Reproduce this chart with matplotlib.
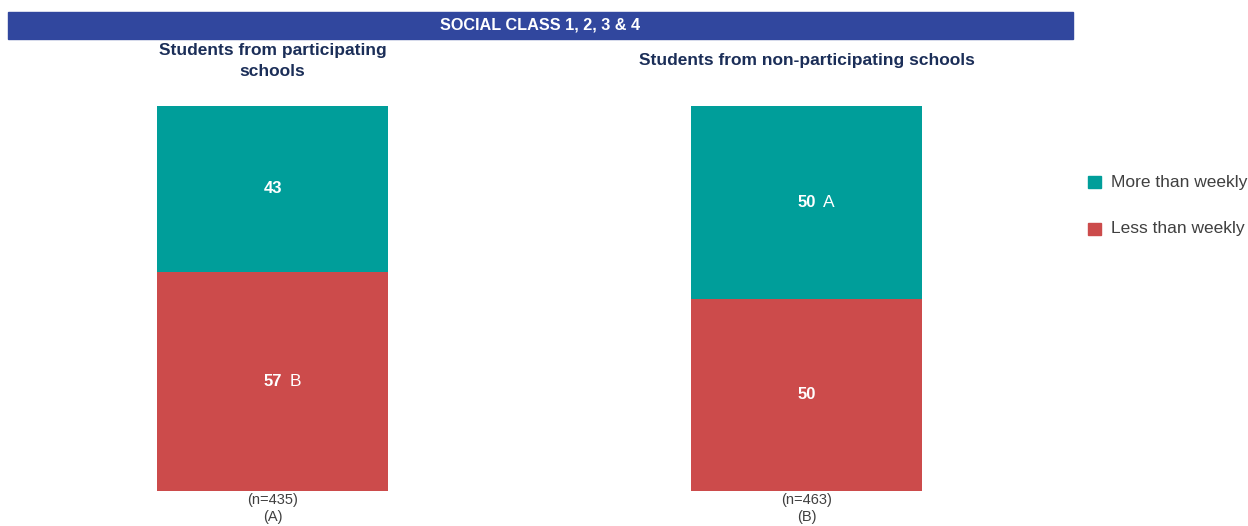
import matplotlib
matplotlib.use("Agg")
from matplotlib import pyplot as plt
from matplotlib.patches import Rectangle

plt.rcParams['font.family'] = ['Liberation Sans', 'DejaVu Sans']

groups = ["Students from participating\nschools", "Students from non-participating schools"]
n_labels = ["(n=435)\n(A)", "(n=463)\n(B)"]
series = ["More than weekly", "Less than weekly"]
more_weekly = [43, 50]
less_weekly = [57, 50]
# significance letters shown next to each value
more_sig = ["", "A"]
less_sig = ["B", ""]

teal = "#009e9a"
red = "#cc4b4b"
navy = "#1b2e58"
grey = "#404040"

W, H = 1248, 526
fig = plt.figure(figsize=(W / 100, H / 100), dpi=100)

# banner across the top
fig.patches.append(Rectangle((8 / W, 1 - 39 / H), (1073 - 8) / W, 27 / H,
                             transform=fig.transFigure, color="#31479e", zorder=0))
fig.text(540 / W, 1 - 25.5 / H, "SOCIAL CLASS 1, 2, 3 & 4", color="white",
         fontsize=11.7, fontweight="bold", ha="center", va="center")

bar_x = [157, 691]
bar_w = 231
top, bottom = 106, 491


def value_label(ax, y, val, sig):
    ax.text(0, y, str(val), color="white", fontsize=12, fontweight="bold",
            ha="center", va="center")
    if sig:
        ax.text(0.073, y, sig, color="white", fontsize=12.5, ha="left", va="center")


for i in range(2):
    ax = fig.add_axes([bar_x[i] / W, 1 - bottom / H, bar_w / W, (bottom - top) / H])
    ax.bar(0, less_weekly[i], width=1, color=red)
    ax.bar(0, more_weekly[i], bottom=less_weekly[i], width=1, color=teal)
    ax.set_xlim(-0.5, 0.5)
    ax.set_ylim(0, 100)
    ax.axis("off")
    value_label(ax, less_weekly[i] + more_weekly[i] / 2, more_weekly[i], more_sig[i])
    value_label(ax, less_weekly[i] / 2, less_weekly[i], less_sig[i])
    ax.text(0, -0.4, n_labels[i], color=grey, fontsize=10.5,
            ha="center", va="top", linespacing=1.28)
    cx = (bar_x[i] + bar_w / 2) / W
    fig.text(cx, 1 - 60.5 / H, groups[i], color=navy, fontsize=12.5, fontweight="bold",
             ha="center", va="center", linespacing=1.5)

# legend
for j, (lab, col) in enumerate(zip(series, [teal, red])):
    y = 182 + j * 47
    fig.patches.append(Rectangle((1088 / W, 1 - (y + 6) / H), 13 / W, 12 / H,
                                 transform=fig.transFigure, color=col))
    fig.text(1111 / W, 1 - y / H, lab, color=grey, fontsize=12.5, ha="left", va="center")

fig.savefig("out.png", dpi=100)
